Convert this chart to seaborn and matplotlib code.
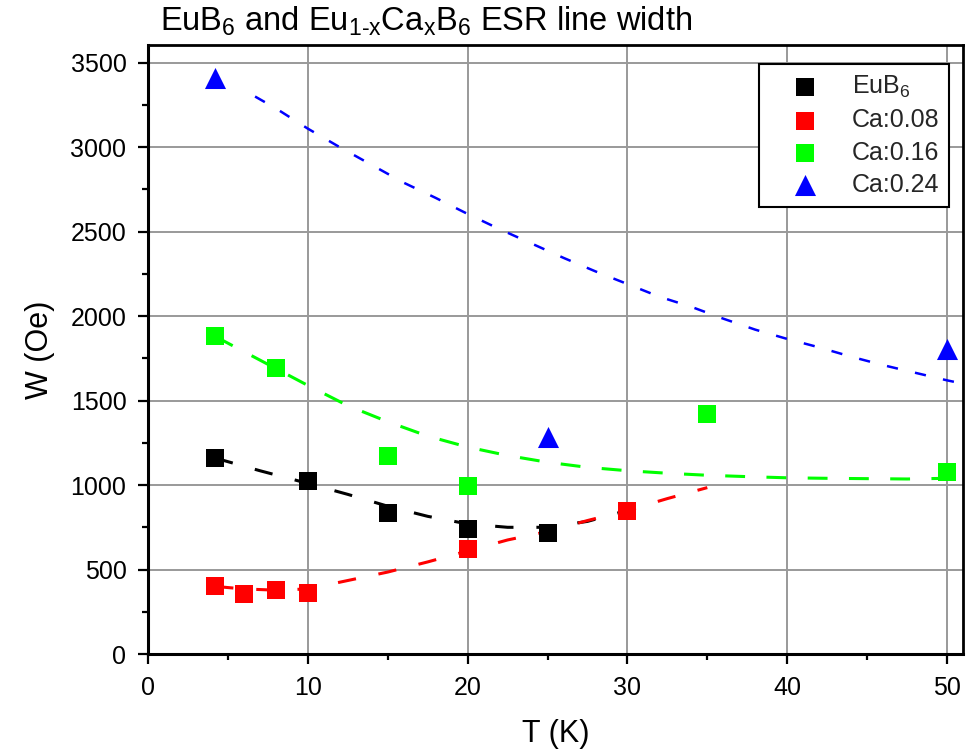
import numpy as np
import pandas as pd
import matplotlib
matplotlib.use("Agg")
import matplotlib.pyplot as plt
import seaborn as sns

# ---- measured points ----
eu_T = [4.2, 10, 15, 20, 25]
eu_W = [1161, 1025, 835, 740, 717]

ca08_T = [4.2, 6, 8, 10, 20, 30]
ca08_W = [403, 355, 379, 361, 622, 847]

ca16_T = [4.2, 8, 15, 20, 35, 50]
ca16_W = [1883, 1694, 1173, 995, 1421, 1078]

ca24_T = [4.2, 25, 50]
ca24_W = [3411, 1285, 1806]

# ---- fit curves ----
eu_fit_T = [4.2, 7, 10, 12.5, 15, 17.5, 20, 22.5, 25, 27.5, 30, 31.5]
eu_fit_W = [1160, 1085, 1010, 945, 875, 815, 770, 750, 750, 785, 850, 895]

ca08_fit_T = [4.2, 6, 8, 10, 12.5, 15, 17.5, 20, 22.5, 25, 27.5, 30, 32.5, 35]
ca08_fit_W = [400, 385, 378, 385, 435, 485, 545, 610, 675, 725, 790, 850, 920, 985]

ca16_fit_T = [4.2, 6, 8, 10, 12.5, 15, 17.5, 20, 22.5, 25, 27.5, 30, 32.5, 35,
              37.5, 40, 42.5, 45, 47.5, 50]
ca16_fit_W = [1880, 1790, 1690, 1590, 1470, 1375, 1290, 1225, 1175, 1135, 1105,
              1085, 1070, 1058, 1050, 1043, 1040, 1038, 1036, 1040]

ca24_fit_T = [6.7, 8, 10, 12, 14, 16, 18, 20, 22, 24, 26, 28, 30, 32, 34, 36,
              38, 40, 42, 44, 46, 48, 50, 51]
ca24_fit_W = [3300, 3230, 3110, 3000, 2895, 2790, 2700, 2605, 2515, 2430, 2345,
              2265, 2190, 2115, 2055, 1985, 1920, 1865, 1815, 1760, 1710, 1665,
              1620, 1600]

labels = ["EuB$_\\mathregular{6}$", "Ca:0.08", "Ca:0.16", "Ca:0.24"]
colors = ["#000000", "#ff0000", "#00ff00", "#0000ff"]
x_ticks = [0, 10, 20, 30, 40, 50]
y_ticks = [0, 500, 1000, 1500, 2000, 2500, 3000, 3500]

sns.set_theme(style="white")
plt.rcParams["font.family"] = ["Liberation Sans", "DejaVu Sans"]
plt.rcParams["mathtext.fontset"] = "custom"
plt.rcParams["mathtext.rm"] = "Liberation Sans"
plt.rcParams["mathtext.it"] = "Liberation Sans"
plt.rcParams["mathtext.bf"] = "Liberation Sans:bold"

fig = plt.figure(figsize=(9.77, 7.49), dpi=100)
ax = fig.add_axes([148 / 977, 1 - 654 / 749, (963 - 148) / 977, (654 - 45) / 749])

# fit lines
fits = [(eu_fit_T, eu_fit_W, 2.2, (0, (6, 7.5))),
        (ca08_fit_T, ca08_fit_W, 2.2, (0, (6, 7.5))),
        (ca16_fit_T, ca16_fit_W, 2.2, (0, (6.5, 7.0))),
        (ca24_fit_T, ca24_fit_W, 1.8, (0, (4.5, 7.0)))]
for (t, w, lw, ls), c in zip(fits, colors):
    sns.lineplot(x=t, y=w, ax=ax, color=c, linewidth=lw, linestyle=ls,
                 legend=False, zorder=3)

# markers
pts = [(eu_T, eu_W, "s", 150), (ca08_T, ca08_W, "s", 150),
       (ca16_T, ca16_W, "s", 150), (ca24_T, ca24_W, "^", 230)]
for (t, w, m, s), c, lab in zip(pts, colors, labels):
    sns.scatterplot(x=t, y=w, ax=ax, color=c, marker=m, s=s, linewidth=0,
                    label=lab, zorder=4)

ax.set_xlim(0, 51.0)
ax.set_ylim(0, 3605)
ax.set_xticks(x_ticks)
ax.set_yticks(y_ticks)
ax.set_xticks([5, 15, 25, 35, 45], minor=True)
ax.set_yticks([250, 750, 1250, 1750, 2250, 2750, 3250], minor=True)
ax.grid(True, which="major", color="#999999", linewidth=1.4)
ax.set_axisbelow(True)

for side in ["left", "bottom"]:
    ax.spines[side].set_linewidth(2.2)
    ax.spines[side].set_color("black")
for side in ["top", "right"]:
    ax.spines[side].set_linewidth(2.0)
    ax.spines[side].set_color("black")

ax.tick_params(axis="both", which="major", direction="out", length=7.5, width=1.6,
               labelsize=18, color="black", labelcolor="black", pad=8,
               bottom=True, left=True, top=False, right=False)
ax.tick_params(axis="both", which="minor", direction="out", length=4, width=1.6,
               color="black", bottom=True, left=True, top=False, right=False)

ax.set_xlabel("T (K)", fontsize=22, labelpad=14, color="black")
ax.set_ylabel("W (Oe)", fontsize=22, labelpad=11, color="black")

fig.text(160 / 977, 1 - 31 / 749,
         "EuB$_\\mathregular{6}$ and Eu$_\\text{1-x}$Ca$_\\mathregular{x}$B$_\\mathregular{6}$ ESR line width",
         fontsize=23.5, ha="left", va="baseline", color="black")

leg = ax.legend(loc="upper right", bbox_to_anchor=(0.983, 0.969), borderaxespad=0,
                fontsize=18, frameon=True, fancybox=False, edgecolor="black",
                framealpha=1, labelspacing=0.33, handletextpad=0.4,
                borderpad=0.4, handlelength=2.9)
leg.get_frame().set_linewidth(1.5)

fig.savefig("out.png", dpi=100)
